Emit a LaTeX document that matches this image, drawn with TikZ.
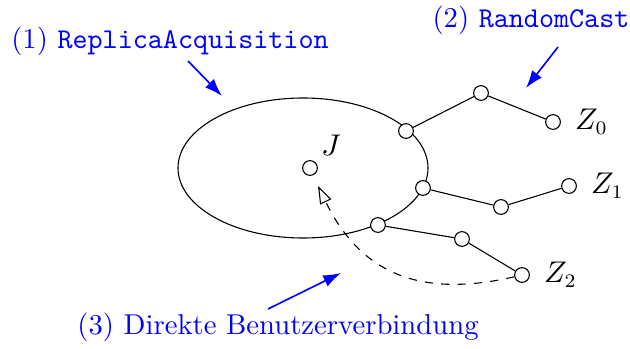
\documentclass[tikz,border=0pt]{standalone}
\usepackage{amsmath, amssymb}
\usepackage{xcolor}
\usepackage{tikz}
\usetikzlibrary{positioning, arrows.meta}

\begin{document}
\begin{tikzpicture}[x=0.01286cm, y=-0.01286cm,
		every node/.style={font=\fontsize{10.5}{12}\selectfont},
		knot/.style={draw, circle, inner sep=0pt, minimum size=5.4pt, fill=white},
		hint/.style={blue, semithick, -{Latex[length=6.5pt, width=4.5pt]}}]
		\useasboundingbox (0,0) rectangle (630,349);
		
		% Cluster
		\draw (303,168) ellipse [x radius=125, y radius=70];
		
		% Nodes
		\node (j) [knot] at (310,168) {};
		\node (jl) at (331,145) {$J$};
		\node (e0) [knot] at (406,131) {};
		\node (e1) [knot] at (423,188) {};
		\node (e2) [knot] at (378,225) {};
		\node (m0) [knot] at (481,93) {};
		\node (m1) [knot] at (501,207) {};
		\node (m2) [knot] at (462,239) {};
		\node (z0) [knot] at (553,122) {};
		\node (z1) [knot] at (569,186) {};
		\node (z2) [knot] at (522,275) {};
		\node (z0l) [right=0.06cm of z0] {$Z_0$};
		\node (z1l) [right=0.06cm of z1] {$Z_1$};
		\node (z2l) [right=0.06cm of z2] {$Z_2$};
		
		% Edges
		\draw (e0) -- (m0) -- (z0);
		\draw (e1) -- (m1) -- (z1);
		\draw (e2) -- (m2) -- (z2);
		\draw[dashed, -{Triangle[open, length=6.5pt, width=4.5pt]}] (z2) to[out=193, in=-64, looseness=1.15] (318,186);
		
		% Labels
		\node (t1) [text=blue] at (170,41) {(1) \texttt{ReplicaAcquisition}};
		\node (t2) [text=blue] at (531,20) {(2) \texttt{RandomCast}};
		\node (t3) [text=blue] at (278,327) {(3) Direkte Benutzerverbindung};
		\coordinate (p1) at (222,96);
		\coordinate (p2) at (526,88);
		\coordinate (p3) at (341,273);
		\draw[hint] (188,61) -- (p1);
		\draw[hint] (558,47) -- (p2);
		\draw[hint] (268,309) -- (p3);
\end{tikzpicture}
\end{document}
